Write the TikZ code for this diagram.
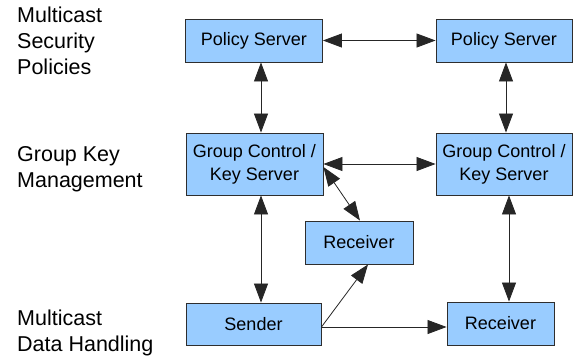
\documentclass[tikz,border=0pt]{standalone}
\usepackage{fontspec}
\setmainfont{Liberation Sans}
\usetikzlibrary{arrows.meta}
\definecolor{boxfill}{HTML}{99CCFF}
\definecolor{boxline}{HTML}{2E2E2E}
\begin{document}
\begin{tikzpicture}[x=1pt,y=-1pt,
  box/.style={draw=boxline,line width=0.9pt,fill=boxfill,inner sep=0pt,align=center,
    font=\fontsize{18}{23}\selectfont},
  side/.style={inner sep=0pt,anchor=base west,align=left,font=\fontsize{21.5}{26}\selectfont},
  conn/.style={line width=0.8pt,draw=black!85},
  tip/.style={-{Triangle[length=19pt,width=14pt]}},
  tips/.style={{Triangle[length=19pt,width=14pt]}-{Triangle[length=19pt,width=14pt]}}]
\useasboundingbox (0,0) rectangle (574,357);

% side labels (base anchor = last line's baseline)
\node[side] (l1) at (17,74) {Multicast\\Security\\Policies};
\node[side] (l2) at (17,187) {Group Key\\Management};
\node[side] (l3) at (17,351) {Multicast\\Data Handling};

% boxes
\node[box,minimum width=137pt,minimum height=43pt] (ps1) at (254,40.5) {Policy Server};
\node[box,minimum width=136pt,minimum height=43pt] (ps2) at (504,40.5) {Policy Server};
\node[box,minimum width=137pt,minimum height=62pt] (gc1) at (254.5,164) {Group Control /\\Key Server};
\node[box,minimum width=136pt,minimum height=62pt] (gc2) at (504,164) {Group Control /\\Key Server};
\node[box,minimum width=108pt,minimum height=43pt] (rm) at (359,242.5) {Receiver};
\node[box,minimum width=135pt,minimum height=42pt] (sd) at (253.5,324) {Sender};
\node[box,minimum width=107pt,minimum height=43pt] (rr) at (500.5,323.5) {Receiver};

% anchor points for connectors
\coordinate (v1) at (261,0);
\coordinate (v2) at (506,0);
\coordinate (v3) at (509,0);
\coordinate (s0) at ([yshift=-3pt]sd.east);

% connectors
\draw[conn,tips] (ps1.east) -- (ps2.west);
\draw[conn,tips] (v1 |- ps1.south) -- (v1 |- gc1.north);
\draw[conn,tips] (v2 |- ps2.south) -- (v2 |- gc2.north);
\draw[conn,tips] (gc1.east) -- (gc2.west);
\draw[conn,tips] ([yshift=-3pt]gc1.east) -- ([xshift=1pt]rm.north);
\draw[conn,tips] (v1 |- gc1.south) -- (v1 |- sd.north);
\draw[conn,tips] (v3 |- gc2.south) -- (v3 |- rr.north);
\draw[conn,tip] (s0) -- ([xshift=9pt]rm.south);
\draw[conn,tip] (s0) -- (s0 -| rr.west);
\end{tikzpicture}
\end{document}
